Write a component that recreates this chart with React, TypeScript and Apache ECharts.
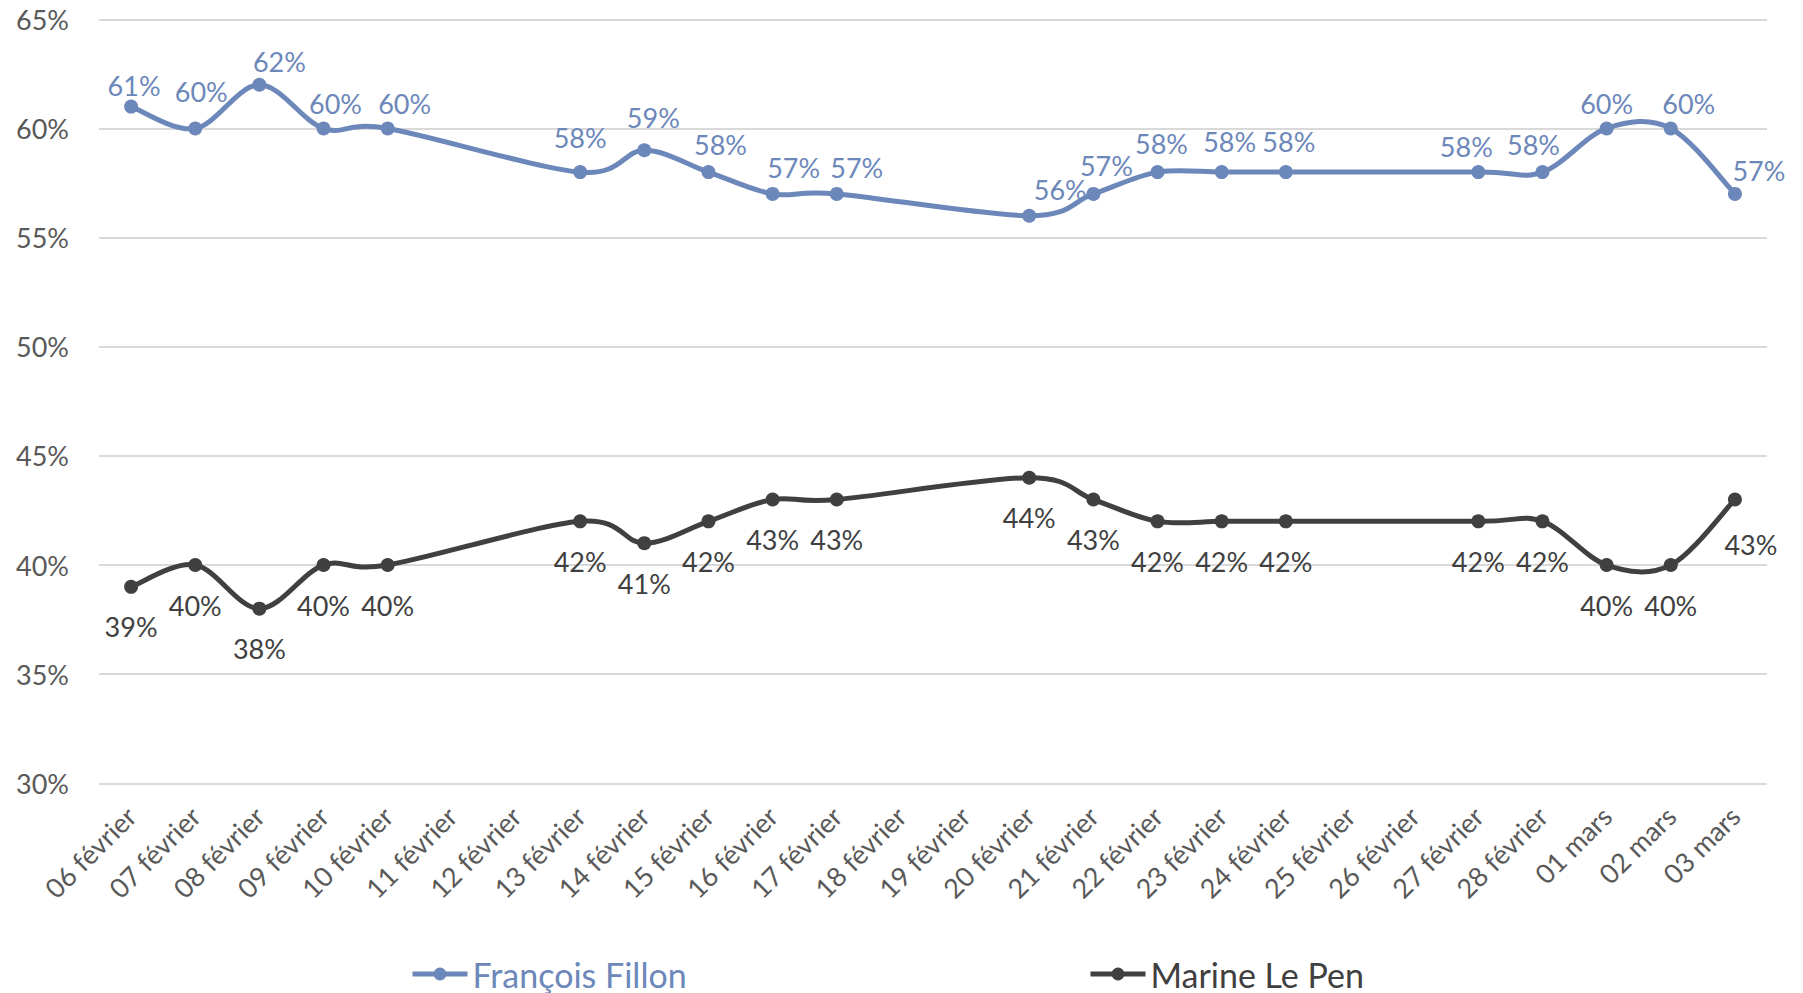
import React, { useEffect, useRef } from "react";
import * as echarts from "echarts";

const categories = [
  "06 février", "07 février", "08 février", "09 février", "10 février",
  "11 février", "12 février", "13 février", "14 février", "15 février",
  "16 février", "17 février", "18 février", "19 février", "20 février",
  "21 février", "22 février", "23 février", "24 février", "25 février",
  "26 février", "27 février", "28 février", "01 mars", "02 mars", "03 mars",
];

const fillon = [61, 60, 62, 60, 60, null, null, 58, 59, 58, 57, 57, null, null, 56, 57, 58, 58, 58, null, null, 58, 58, 60, 60, 57];
const lePen = [39, 40, 38, 40, 40, null, null, 42, 41, 42, 43, 43, null, null, 44, 43, 42, 42, 42, null, null, 42, 42, 40, 40, 43];

const yTicks = { min: 30, max: 65, interval: 5 };

// label placement (style only): offset of label centre from point, in px
const fillonLabelShift: Record<number, [number, number]> = {
  0: [3, -21], 1: [6, -37], 2: [20, -23], 3: [12, -25], 4: [17, -25],
  7: [0, -35], 8: [9, -33], 9: [12, -28], 10: [21, -26], 11: [20, -26],
  14: [31, -26], 15: [13, -28], 16: [4, -29], 17: [8, -31], 18: [3, -31],
  21: [-12, -26], 22: [-9, -28], 23: [0, -25], 24: [18, -25], 25: [24, -23],
};
const lePenLabelShift: Record<number, [number, number]> = { 25: [16, 45] };

const BLUE = "#6c87b9";
const DARK = "#404040";
const AXIS_TEXT = "#595959";
const FONT = "Lato";

// Smooth curve (Catmull-Rom style, like the spreadsheet's smoothed line) drawn
// through the points, positioned with the chart's own axes via api.coord.
function curveSeries(vals: (number | null)[], color: string) {
  return {
    type: "custom",
    silent: true,
    z: 2,
    data: [[0, vals.find((v) => v != null)]],
    renderItem: (_params: any, api: any) => {
      const pts: number[][] = [];
      vals.forEach((v, i) => {
        if (v != null) pts.push(api.coord([i, v]));
      });
      let d = `M${pts[0][0]},${pts[0][1]}`;
      for (let k = 0; k < pts.length - 1; k++) {
        const p0 = pts[k - 1] || pts[k];
        const p1 = pts[k];
        const p2 = pts[k + 1];
        const p3 = pts[k + 2] || pts[k + 1];
        const c1x = p1[0] + (p2[0] - p0[0]) / 6;
        const c1y = p1[1] + (p2[1] - p0[1]) / 6;
        const c2x = p2[0] - (p3[0] - p1[0]) / 6;
        const c2y = p2[1] - (p3[1] - p1[1]) / 6;
        d += ` C${c1x},${c1y} ${c2x},${c2y} ${p2[0]},${p2[1]}`;
      }
      return {
        type: "path",
        shape: { pathData: d },
        style: { fill: "none", stroke: color, lineWidth: 5, lineJoin: "round", lineCap: "round" },
      };
    },
  };
}

export default function App() {
  const ref = useRef<HTMLDivElement>(null);
  useEffect(() => {
    if (!ref.current) return;
    const chart = echarts.init(ref.current, null, { renderer: "svg" });

    const mk = (vals: (number | null)[], shift: Record<number, [number, number]>, def: [number, number]) =>
      vals.map((v, i) =>
        v == null ? null : { value: v, label: { offset: shift[i] || def } }
      );

    const legendBase = {
      top: 957,
      padding: 0,
      itemWidth: 55,
      itemHeight: 16,
      textStyle: { fontSize: 34, fontFamily: FONT },
      lineStyle: { width: 5, opacity: 1 },
      itemStyle: { opacity: 1 },
    };

    chart.setOption({
      animation: false,
      backgroundColor: "#ffffff",
      textStyle: { fontFamily: FONT },
      grid: { left: 99, right: 36, top: 19.3, bottom: 209.7, containLabel: false },
      legend: [
        {
          ...legendBase,
          data: [{ name: "François Fillon", textStyle: { color: BLUE } }],
          left: 410,
        },
        {
          ...legendBase,
          data: [{ name: "Marine Le Pen", textStyle: { color: DARK } }],
          left: 1088,
        },
      ],
      xAxis: {
        type: "category",
        data: categories,
        boundaryGap: true,
        axisLine: { show: false },
        axisTick: { show: false },
        axisLabel: {
          rotate: 45,
          interval: 0,
          margin: 28,
          color: AXIS_TEXT,
          fontSize: 27,
          fontFamily: FONT,
        },
      },
      yAxis: {
        type: "value",
        min: yTicks.min,
        max: yTicks.max,
        interval: yTicks.interval,
        axisLine: { show: false },
        axisTick: { show: false },
        axisLabel: {
          formatter: "{value}%",
          color: AXIS_TEXT,
          fontSize: 27,
          fontFamily: FONT,
          margin: 30,
        },
        splitLine: { lineStyle: { color: "#d9d9d9", width: 2 } },
      },
      series: [
        curveSeries(fillon, BLUE),
        curveSeries(lePen, DARK),
        {
          name: "François Fillon",
          type: "line",
          z: 3,
          data: mk(fillon, fillonLabelShift, [0, -26]),
          connectNulls: true,
          symbol: "circle",
          symbolSize: 14,
          lineStyle: { color: BLUE, width: 5, opacity: 0 },
          itemStyle: { color: BLUE },
          label: {
            show: true,
            position: "inside",
            formatter: "{c}%",
            color: BLUE,
            fontSize: 27,
            fontFamily: FONT,
          },
        },
        {
          name: "Marine Le Pen",
          type: "line",
          z: 3,
          data: mk(lePen, lePenLabelShift, [0, 40]),
          connectNulls: true,
          symbol: "circle",
          symbolSize: 14,
          lineStyle: { color: DARK, width: 5, opacity: 0 },
          itemStyle: { color: DARK },
          label: {
            show: true,
            position: "inside",
            formatter: "{c}%",
            color: DARK,
            fontSize: 27,
            fontFamily: FONT,
          },
        },
      ],
    });
    return () => chart.dispose();
  }, []);

  return (
    <div
      ref={ref}
      style={{ position: "fixed", left: 0, top: 0, width: 1803, height: 993, background: "#fff" }}
    />
  );
}
